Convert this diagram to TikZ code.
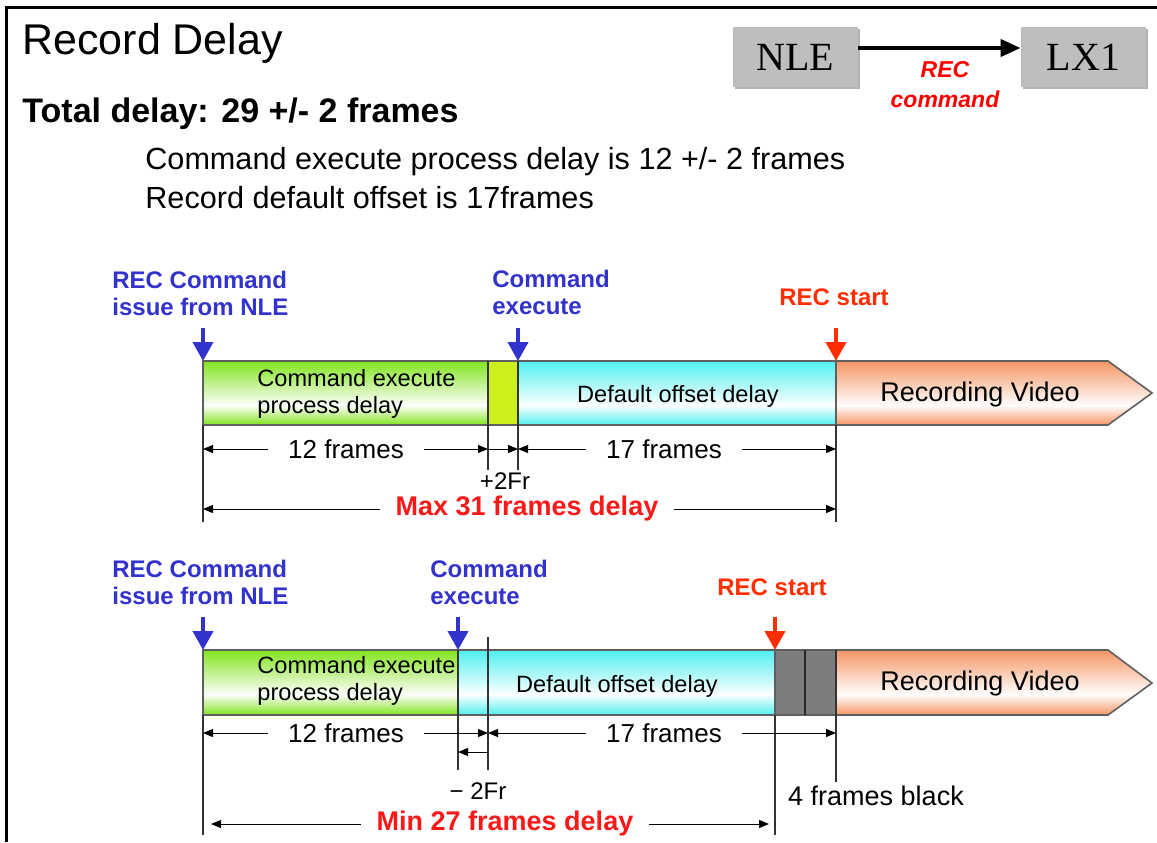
\documentclass[tikz,border=0pt]{standalone}
\usepackage{fontspec}
\setmainfont{Liberation Sans}
\newfontfamily\timesfont{Liberation Serif}
\usepackage{tikz}
\usetikzlibrary{arrows.meta,shadows}
\definecolor{cmdblue}{RGB}{50, 50, 205}
\definecolor{recred}{RGB}{255, 45, 0}
\definecolor{maxred}{RGB}{250, 25, 25}
\definecolor{lgreen}{RGB}{130, 228, 30}
\definecolor{ygreen}{RGB}{204, 240, 30}
\definecolor{lcyan}{RGB}{80, 240, 240}
\definecolor{lorange}{RGB}{245, 150, 100}
\definecolor{bgray}{RGB}{190, 190, 190}
\definecolor{dgray}{RGB}{125, 125, 125}
\definecolor{egray}{RGB}{95, 95, 95}

\begin{document}
\begin{tikzpicture}[x=0.5pt, y=-0.5pt,
    title/.style={anchor=base west, inner sep=0pt, font=\fontsize{21.5}{26}\selectfont},
    head/.style={anchor=base west, inner sep=0pt, font=\fontsize{17}{20}\selectfont\bfseries},
    body/.style={anchor=base west, inner sep=0pt, font=\fontsize{15.3}{19}\selectfont},
    unit/.style={fill=bgray, minimum width=62.5pt, minimum height=30pt, inner sep=0pt,
      font=\timesfont\fontsize{20}{24}\selectfont,
      drop shadow={shadow xshift=1.2pt, shadow yshift=-1.2pt, opacity=0.6}},
    cue/.style={anchor=west, align=left, inner sep=0pt, font=\fontsize{12}{13.5}\selectfont\bfseries},
    inbar/.style={inner sep=0pt, font=\fontsize{11.8}{13.5}\selectfont},
    video/.style={inner sep=0pt, font=\fontsize{13.5}{16}\selectfont},
    dimtext/.style={inner xsep=10pt, inner ysep=0pt, font=\fontsize{13}{15}\selectfont},
    small/.style={inner sep=0pt, font=\fontsize{12}{14}\selectfont},
    total/.style={maxred, inner xsep=7.5pt, inner ysep=0pt, font=\fontsize{13.5}{16}\selectfont\bfseries},
    dim/.style={-{Triangle[length=5pt, width=4pt]}, line width=0.5pt},
    pointer/.style={-{Triangle[length=9.5pt, width=10pt]}, line width=2pt},
    tick/.style={draw=black!80, line width=0.6pt},
    bar/.style={draw=egray, line width=0.8pt}]
\useasboundingbox (0,0) rectangle (1157,842);
\fill[white] (0,0) rectangle (1157,842);
\draw[line width=1.5pt] (6,842) -- (6,7) -- (1157,7);

% headings
\node (title) at (22,54) [title] {Record Delay};
\node (total) at (22,122) [head] {Total delay: 29 +/- 2 frames};
\node (cmdline) at (145,169) [body] {Command execute process delay is 12 +/- 2 frames};
\node (offline) at (145,208) [body] {Record default offset is 17frames};

% NLE to LX1
\node (nle) at (795.5,57) [unit] {NLE};
\node (lx1) at (1083.5,57) [unit] {LX1};
\draw[-{Triangle[length=10pt, width=8.5pt]}, line width=2pt] ([yshift=4.5pt]nle.east) -- ([yshift=4.5pt]lx1.west);
\node (reccmd) at (945,84.5) [align=center, inner sep=0pt, text=red,
  font=\fontsize{11.5}{15}\selectfont\bfseries\itshape] {REC\\command};

% max case
\foreach \xa/\xb/\c in {203/488/lgreen, 518/836/lcyan} {
  \shade[top color=\c, bottom color=white] (\xa,361) rectangle (\xb,406);
  \shade[top color=white, bottom color=\c] (\xa,405) rectangle (\xb,425);
}
\fill[ygreen] (488,361) rectangle (518,425);
\begin{scope}
  \clip (836,361) -- (1108,361) -- (1152,393) -- (1108,425) -- (836,425) -- cycle;
  \shade[top color=lorange, bottom color=white] (836,361) rectangle (1152,406);
  \shade[top color=white, bottom color=lorange] (836,405) rectangle (1152,425);
\end{scope}
\draw[bar] (203,361) -- (1108,361) -- (1152,393) -- (1108,425) -- (203,425) -- cycle;
\draw[bar] (836,361) -- (836,425);
\draw[tick] (203,425) -- (203,522);
\draw[tick] (488,361) -- (488,470);
\draw[tick] (518,361) -- (518,470);
\draw[tick] (836,425) -- (836,522);

\node (cep1) at (257,393.5) [inbar, anchor=west, align=left] {Command execute\\process delay};
\node (dod1) at (678,396) [inbar] {Default offset delay};
\node (rv1) at (980,395) [video] {Recording Video};

\node (issue1) at (112,293.5) [cue, cmdblue] {REC Command\\issue from NLE};
\node (exec1) at (492,292) [cue, cmdblue] {Command\\execute};
\node (start1) at (779,297) [cue, recred] {REC start};
\coordinate (p1a) at (203,328); \coordinate (p1b) at (203,361);
\coordinate (p2a) at (518,328); \coordinate (p2b) at (518,361);
\coordinate (p3a) at (836,328); \coordinate (p3b) at (836,361);
\draw[pointer, cmdblue] (p1a) -- (p1b);
\draw[pointer, cmdblue] (p2a) -- (p2b);
\draw[pointer, recred] (p3a) -- (p3b);

\coordinate (a0) at (203,449); \coordinate (a1) at (488,449);
\coordinate (a2) at (518,449); \coordinate (a3) at (836,449);
\node (f12a) at (346,449) [dimtext] {12 frames};
\node (f17a) at (664,449) [dimtext] {17 frames};
\draw[dim] (f12a) -- (a0);
\draw[dim] (f12a) -- (a1);
\draw[dim] (a1) -- (a2);
\draw[dim] (f17a) -- (a2);
\draw[dim] (f17a) -- (a3);
\node (plus2) at (505,481) [small] {+2Fr};
\coordinate (m0) at (203,509); \coordinate (m1) at (836,509);
\node (max31) at (527,509) [total] {Max 31 frames delay};
\draw[dim] (max31) -- (m0);
\draw[dim] (max31) -- (m1);

% min case
\foreach \xa/\xb/\c in {203/458/lgreen, 458/775/lcyan} {
  \shade[top color=\c, bottom color=white] (\xa,650) rectangle (\xb,695);
  \shade[top color=white, bottom color=\c] (\xa,694) rectangle (\xb,715);
}
\fill[dgray] (775,650) rectangle (836,715);
\begin{scope}
  \clip (836,650) -- (1108,650) -- (1152,683) -- (1108,715) -- (836,715) -- cycle;
  \shade[top color=lorange, bottom color=white] (836,650) rectangle (1152,695);
  \shade[top color=white, bottom color=lorange] (836,694) rectangle (1152,715);
\end{scope}
\draw[bar] (203,650) -- (1108,650) -- (1152,683) -- (1108,715) -- (203,715) -- cycle;
\draw[bar] (775,650) -- (775,715);
\draw[line width=1pt, black!85] (805,650) -- (805,715);
\draw[tick] (203,715) -- (203,835);
\draw[tick] (458,650) -- (458,770);
\draw[tick] (488,637) -- (488,770);
\draw[tick] (775,715) -- (775,835);
\draw[tick] (836,650) -- (836,782);

\node (cep2) at (257,681) [inbar, anchor=west, align=left] {Command execute\\process delay};
\node (dod2) at (617,686) [inbar] {Default offset delay};
\node (rv2) at (980,684) [video] {Recording Video};

\node (issue2) at (112,582) [cue, cmdblue] {REC Command\\issue from NLE};
\node (exec2) at (430,582.5) [cue, cmdblue] {Command\\execute};
\node (start2) at (717,587) [cue, recred] {REC start};
\coordinate (q1a) at (203,617); \coordinate (q1b) at (203,650);
\coordinate (q2a) at (458,617); \coordinate (q2b) at (458,650);
\coordinate (q3a) at (775,617); \coordinate (q3b) at (775,650);
\draw[pointer, cmdblue] (q1a) -- (q1b);
\draw[pointer, cmdblue] (q2a) -- (q2b);
\draw[pointer, recred] (q3a) -- (q3b);

\coordinate (b0) at (203,733); \coordinate (b1) at (488,733); \coordinate (b3) at (836,733);
\node (f12b) at (346,733) [dimtext] {12 frames};
\node (f17b) at (664,733) [dimtext] {17 frames};
\draw[dim] (f12b) -- (b0);
\draw[dim] (f12b) -- (b1);
\draw[dim] (f17b) -- (b1);
\draw[dim] (f17b) -- (b3);
\coordinate (s0) at (488,752); \coordinate (s1) at (458,752);
\draw[dim] (s0) -- (s1);
\node (minus2) at (478,791) [small] {− 2Fr};
\node (black4) at (876,796) [video] {4 frames black};
\coordinate (n0) at (203,824); \coordinate (n1) at (775,824);
\node (min27) at (505,824) [total] {Min 27 frames delay};
\draw[dim, shorten >=4pt] (min27) -- (n0);
\draw[dim, shorten >=3pt] (min27) -- (n1);
\end{tikzpicture}
\end{document}
